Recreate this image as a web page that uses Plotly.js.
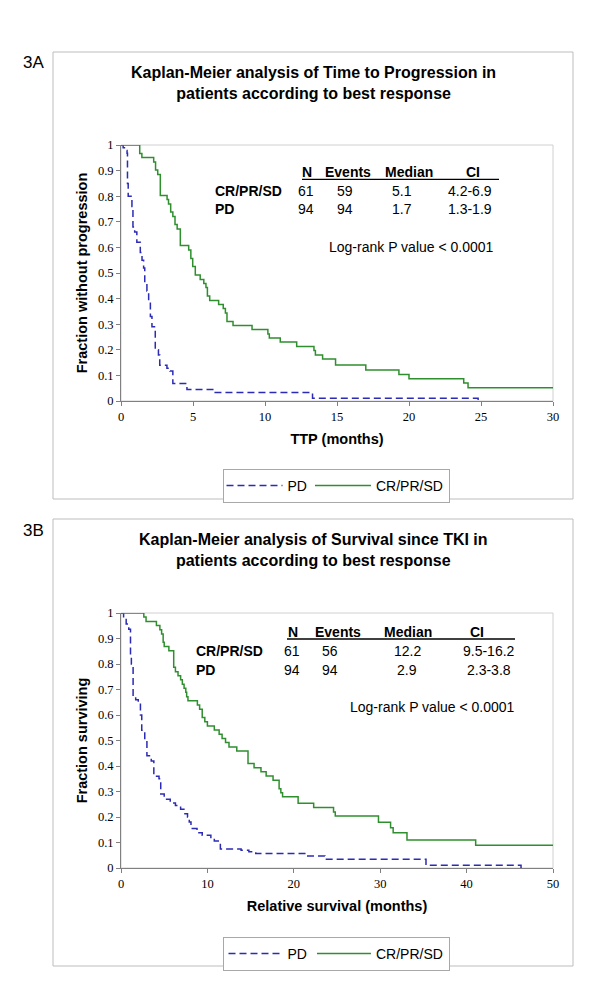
<!DOCTYPE html>
<html>
<head>
<meta charset="utf-8">
<script src="https://cdn.plot.ly/plotly-3.0.1.min.js"></script>
<style>html,body{margin:0;padding:0;background:#fff;}#chart{width:600px;height:1000px;}</style>
</head>
<body>
<div id="chart"></div>
<script>
// ---------- DATA ----------
// Panel 3A: Time to progression (months) – Kaplan-Meier step points
const ttpTimeCR = [0, 1.3, 1.45, 2.27, 2.4, 2.55, 2.73, 3.2, 3.3, 3.45, 3.6, 3.75, 3.9, 4.12, 4.7, 4.85, 4.98, 5.16, 5.5, 5.75, 5.9, 6.0, 6.16, 6.78, 7.1, 7.25, 7.36, 7.78, 9.1, 10.2, 10.3, 11.06, 12.2, 13.4, 13.5, 14.0, 14.9, 17.0, 19.3, 20.0, 23.8, 24.1, 30];
const ttpSurvCR = [1, 0.967, 0.951, 0.934, 0.902, 0.885, 0.803, 0.787, 0.770, 0.738, 0.721, 0.689, 0.672, 0.607, 0.590, 0.557, 0.525, 0.492, 0.475, 0.459, 0.443, 0.410, 0.393, 0.377, 0.361, 0.344, 0.311, 0.295, 0.279, 0.262, 0.246, 0.230, 0.213, 0.197, 0.180, 0.164, 0.141, 0.121, 0.104, 0.087, 0.070, 0.052, 0.052];
const ttpTimePD = [0, 0.15, 0.3, 0.42, 0.45, 0.5, 0.76, 0.83, 0.95, 1.1, 1.34, 1.46, 1.57, 1.65, 1.8, 1.92, 2.04, 2.15, 2.38, 2.6, 2.69, 3.19, 3.4, 3.6, 4.58, 6.43, 13.3, 24.8];
const ttpSurvPD = [1, 0.989, 0.979, 0.968, 0.85, 0.80, 0.76, 0.68, 0.66, 0.62, 0.58, 0.55, 0.52, 0.46, 0.43, 0.39, 0.33, 0.29, 0.20, 0.18, 0.14, 0.128, 0.117, 0.068, 0.045, 0.033, 0.011, 0];

// Panel 3B: Relative survival (months)
const osTimeCR = [0, 2.64, 2.9, 4.1, 4.5, 4.7, 4.88, 5.0, 5.54, 6.1, 6.3, 6.6, 6.9, 7.1, 7.3, 7.5, 7.6, 7.75, 8.84, 9.1, 9.4, 9.7, 10.0, 10.8, 11.36, 11.7, 12.1, 12.5, 13.4, 14.7, 15.4, 16.2, 16.8, 17.6, 18.3, 18.5, 18.7, 20.5, 22.3, 24.6, 24.8, 29.8, 31.2, 31.5, 33.1, 41.05, 50];
const osSurvCR = [1, 0.984, 0.967, 0.951, 0.934, 0.918, 0.885, 0.869, 0.852, 0.787, 0.770, 0.754, 0.738, 0.721, 0.705, 0.689, 0.672, 0.656, 0.639, 0.623, 0.590, 0.574, 0.557, 0.541, 0.525, 0.508, 0.492, 0.475, 0.459, 0.410, 0.393, 0.377, 0.361, 0.344, 0.311, 0.295, 0.279, 0.254, 0.237, 0.220, 0.204, 0.179, 0.158, 0.138, 0.110, 0.089, 0.089];
const osTimePD = [0, 0.3, 0.6, 0.9, 1.1, 1.2, 1.4, 1.7, 2.0, 2.25, 2.4, 2.75, 3.0, 3.5, 3.8, 4.4, 4.6, 5.0, 5.7, 6.3, 6.9, 7.4, 7.7, 7.9, 8.1, 8.8, 9.4, 10.4, 10.8, 11.5, 13.9, 14.8, 15.6, 21.5, 23.6, 35.3, 46.3];
const osSurvPD = [1, 0.979, 0.957, 0.936, 0.83, 0.80, 0.67, 0.66, 0.645, 0.60, 0.54, 0.50, 0.44, 0.42, 0.36, 0.35, 0.29, 0.27, 0.255, 0.245, 0.23, 0.213, 0.20, 0.18, 0.155, 0.138, 0.128, 0.117, 0.106, 0.075, 0.07, 0.064, 0.057, 0.047, 0.034, 0.011, 0];

// Summary tables
const groups = ['CR/PR/SD', 'PD'];
const tableHeaders = ['N', 'Events', 'Median', 'CI'];
const ttpN = ['61', '94'];
const ttpEvents = ['59', '94'];
const ttpMedian = ['5.1', '1.7'];
const ttpCI = ['4.2-6.9', '1.3-1.9'];
const osN = ['61', '94'];
const osEvents = ['56', '94'];
const osMedian = ['12.2', '2.9'];
const osCI = ['9.5-16.2', '2.3-3.8'];
const pValueText = 'Log-rank P value < 0.0001';

const panelLabels = ['3A', '3B'];
const panelTitles = [
  'Kaplan-Meier analysis of Time to Progression in<br>patients according to best response',
  'Kaplan-Meier analysis of Survival since TKI in<br>patients according to best response'
];
const xTitles = ['TTP (months)', 'Relative survival (months)'];
const yTitles = ['Fraction without progression', 'Fraction surviving'];

// ---------- STYLE / LAYOUT ----------
const W = 600, H = 1000, ML = 121, MR = 47;
const PX = x => (x - ML) / (W - ML - MR);   // page px -> paper x
const PY = y => 1 - y / H;                  // page px -> paper y

const BLUE = '#2b2bb5', GREEN = '#2f8f2f';
const SANS = 'Liberation Sans, Arial, sans-serif';
const SERIF = 'Liberation Serif, Times New Roman, serif';

const traces = [
  {x: ttpTimePD, y: ttpSurvPD, name: 'PD', mode: 'lines', line: {shape: 'hv', color: BLUE, width: 1.5, dash: '7px,4px'}, xaxis: 'x', yaxis: 'y', legend: 'legend'},
  {x: ttpTimeCR, y: ttpSurvCR, name: 'CR/PR/SD', mode: 'lines', line: {shape: 'hv', color: GREEN, width: 1.5}, xaxis: 'x', yaxis: 'y', legend: 'legend'},
  {x: osTimePD, y: osSurvPD, name: 'PD', mode: 'lines', line: {shape: 'hv', color: BLUE, width: 1.5, dash: '7px,4px'}, xaxis: 'x2', yaxis: 'y2', legend: 'legend2'},
  {x: osTimeCR, y: osSurvCR, name: 'CR/PR/SD', mode: 'lines', line: {shape: 'hv', color: GREEN, width: 1.5}, xaxis: 'x2', yaxis: 'y2', legend: 'legend2'}
];

function xAxis(range, dtick, title, anchor) {
  return {
    domain: [0, 1], range: range, dtick: dtick, tick0: 0, anchor: anchor,
    ticks: 'outside', ticklen: 4, tickcolor: '#808080', showline: true, linecolor: '#808080', linewidth: 1,
    showgrid: false, zeroline: false, fixedrange: true,
    tickfont: {family: SERIF, size: 12.5, color: '#000'},
    title: {text: title, standoff: 10, font: {family: SANS, size: 14.5, color: '#000', weight: 'bold'}}
  };
}
function yAxis(domain, title, anchor) {
  return {
    domain: domain, range: [0, 1], dtick: 0.1, tick0: 0, anchor: anchor,
    ticks: 'outside', ticklen: 4, tickcolor: '#808080', showline: true, linecolor: '#808080', linewidth: 1,
    showgrid: false, zeroline: false, fixedrange: true,
    tickfont: {family: SERIF, size: 12.5, color: '#000'},
    title: {text: title, standoff: 6, font: {family: SANS, size: 14.5, color: '#000', weight: 'bold'}}
  };
}

const annotations = [];
const shapes = [];
function txt(x, y, text, opts) {
  annotations.push(Object.assign({xref: 'paper', yref: 'paper', x: PX(x), y: PY(y), text: text, showarrow: false,
    xanchor: 'center', yanchor: 'middle', font: {family: SANS, size: 14, color: '#000'}}, opts || {}));
}

// panel geometry (page px)
const panels = [
  {box: [53, 52, 573, 499], label: [33, 63], title: [313, 82.5],
   hdrY: 171.7, rowY: [190.7, 209.3], rowX: 212.7, hdrX: [306.7, 348, 409, 473], valX: [306, 344.7, 401.7, 470],
   line: [302, 499, 179.3], pv: [411.5, 247],
   n: ttpN, ev: ttpEvents, med: ttpMedian, ci: ttpCI, xref: 'x', yref: 'y'},
  {box: [53, 519, 573, 966], label: [33, 530], title: [313, 550],
   hdrY: 631.7, rowY: [651, 670], rowX: 194, hdrX: [292.7, 337.7, 408, 476.7], valX: [292, 330, 407, 489],
   line: [287, 515, 639], pv: [432, 707],
   n: osN, ev: osEvents, med: osMedian, ci: osCI, xref: 'x2', yref: 'y2'}
];

panels.forEach((p, i) => {
  shapes.push({type: 'rect', xref: 'paper', yref: 'paper', x0: PX(p.box[0]), x1: PX(p.box[2]), y0: PY(p.box[1]), y1: PY(p.box[3]),
    line: {color: '#bdbdbd', width: 1}, fillcolor: 'rgba(0,0,0,0)', layer: 'below'});
  // plot-area frame (light grey top/right)
  shapes.push({type: 'rect', xref: p.xref + ' domain', yref: p.yref + ' domain', x0: 0, x1: 1, y0: 0, y1: 1,
    line: {color: '#d0d0d0', width: 1}, layer: 'below'});
  // table header underline
  shapes.push({type: 'line', xref: 'paper', yref: 'paper', x0: PX(p.line[0]), x1: PX(p.line[1]), y0: PY(p.line[2]), y1: PY(p.line[2]),
    line: {color: '#000', width: 1.3}});

  txt(p.label[0], p.label[1], panelLabels[i], {font: {family: SANS, size: 17, color: '#000'}});
  txt(p.title[0], p.title[1], panelTitles[i], {font: {family: SANS, size: 16, color: '#000', weight: 'bold'}});

  tableHeaders.forEach((h, j) => txt(p.hdrX[j], p.hdrY, h, {font: {family: SANS, size: 14, color: '#000', weight: 'bold'}}));
  groups.forEach((g, r) => {
    txt(p.rowX, p.rowY[r], g, {xanchor: 'left', font: {family: SANS, size: 14, color: '#000', weight: 'bold'}});
    [p.n[r], p.ev[r], p.med[r], p.ci[r]].forEach((v, j) => txt(p.valX[j], p.rowY[r], v));
  });
  txt(p.pv[0], p.pv[1], pValueText);
});

const legendBase = {orientation: 'h', xanchor: 'center', yanchor: 'top', bgcolor: '#fff', bordercolor: '#a8a8a8', borderwidth: 1,
  font: {family: SANS, size: 14, color: '#000'}, itemwidth: 54, itemclick: false, itemdoubleclick: false, tracegroupgap: 0};

const layout = {
  width: W, height: H, margin: {l: ML, r: MR, t: 0, b: 0},
  paper_bgcolor: '#fff', plot_bgcolor: '#fff', showlegend: true,
  xaxis: xAxis([0, 30], 5, xTitles[0], 'y'),
  yaxis: yAxis([PY(401), PY(145)], yTitles[0], 'x'),
  xaxis2: xAxis([0, 50], 10, xTitles[1], 'y2'),
  yaxis2: yAxis([PY(868), PY(613)], yTitles[1], 'x2'),
  legend: Object.assign({x: PX(336), y: PY(469)}, legendBase),
  legend2: Object.assign({x: PX(336), y: PY(937)}, legendBase),
  annotations: annotations, shapes: shapes
};

const gdiv = document.getElementById('chart');
// lengthen the legend line samples so they span the whole symbol area (as in the reference)
function stretchLegendLines() {
  gdiv.querySelectorAll('.legend path.js-line, .legend .legendlines path').forEach(p => {
    if (p.getAttribute('d') !== 'M3,0h56') p.setAttribute('d', 'M3,0h56');
  });
}
Plotly.newPlot(gdiv, traces, layout, {displayModeBar: false});
stretchLegendLines();
[0, 20, 100, 300, 700].forEach(t => setTimeout(stretchLegendLines, t));
</script>
</body>
</html>
